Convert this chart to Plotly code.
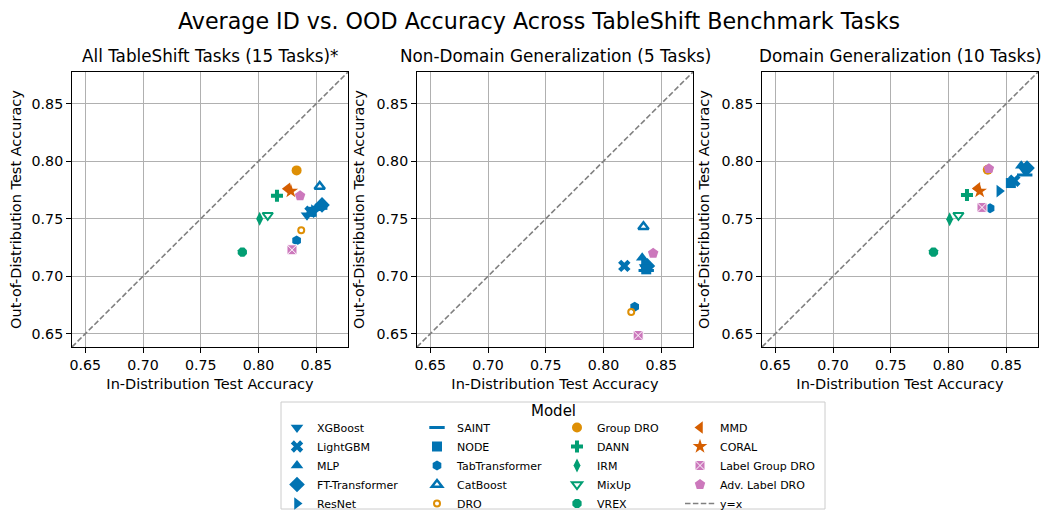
import plotly.graph_objects as go

# ---------------- data ----------------
models = ["XGBoost", "LightGBM", "MLP", "FT-Transformer", "ResNet",
          "SAINT", "NODE", "TabTransformer", "CatBoost", "DRO",
          "Group DRO", "DANN", "IRM", "MixUp", "VREX",
          "MMD", "CORAL", "Label Group DRO", "Adv. Label DRO"]

# All TableShift tasks (15 tasks)
id_all = [0.842, 0.845, 0.850, 0.855, 0.848, 0.853, 0.846, 0.833, 0.853, 0.837,
          0.833, 0.816, 0.801, 0.808, 0.786, 0.825, 0.828, 0.829, 0.836]
ood_all = [0.753, 0.756, 0.759, 0.762, 0.757, 0.759, 0.756, 0.731, 0.778, 0.740,
           0.792, 0.770, 0.750, 0.753, 0.721, 0.776, 0.774, 0.723, 0.770]

# Non-domain generalization (5 tasks)
id_ndg = [0.836, 0.818, 0.8335, 0.838, 0.835, 0.837, 0.837, 0.827, 0.8346, 0.824,
          None, None, None, None, None, None, None, 0.830, 0.843]
ood_ndg = [0.708, 0.709, 0.716, 0.709, 0.711, 0.705, 0.706, 0.6735, 0.743, 0.669,
           None, None, None, None, None, None, None, 0.6485, 0.720]

# Domain generalization (10 tasks)
id_dg = [0.866, 0.857, 0.863, 0.868, 0.844, 0.866, 0.854, 0.836, None, None,
         0.834, 0.816, 0.801, 0.8086, 0.787, 0.825, 0.827, 0.829, 0.835]
ood_dg = [0.792, 0.783, 0.796, 0.794, 0.774, 0.788, 0.781, 0.759, None, None,
          0.7925, 0.7705, 0.7496, 0.753, 0.721, 0.7763, 0.774, 0.7598, 0.7935]

panel_titles = ["All TableShift Tasks (15 Tasks)*",
                "Non-Domain Generalization (5 Tasks)",
                "Domain Generalization (10 Tasks)"]
tick_vals = [0.65, 0.70, 0.75, 0.80, 0.85]
tick_text = ["0.65", "0.70", "0.75", "0.80", "0.85"]
axis_range = [0.6385, 0.8775]

# ---------------- styles ----------------
BLUE, ORANGE, GREEN, VERM, PINK = "#0173B2", "#DE8F05", "#029E73", "#D55E00", "#CC78BC"
styles = {
    "XGBoost": dict(symbol="triangle-down", color=BLUE, size=11),
    "LightGBM": dict(symbol="x", color=BLUE, size=11),
    "MLP": dict(symbol="triangle-up", color=BLUE, size=11),
    "FT-Transformer": dict(symbol="diamond", color=BLUE, size=12),
    "ResNet": dict(symbol="triangle-right", color=BLUE, size=11),
    "SAINT": dict(symbol="line-ew", color=BLUE, size=11, line=dict(width=3, color=BLUE)),
    "NODE": dict(symbol="square", color=BLUE, size=10),
    "TabTransformer": dict(symbol="hexagon", color=BLUE, size=10),
    "CatBoost": dict(symbol="triangle-up-open", color=BLUE, size=9, line=dict(width=2.5, color=BLUE)),
    "DRO": dict(symbol="circle-open", color=ORANGE, size=6, line=dict(width=2, color=ORANGE)),
    "Group DRO": dict(symbol="circle", color=ORANGE, size=10),
    "DANN": dict(symbol="cross", color=GREEN, size=10),
    "IRM": dict(symbol="diamond-tall", color=GREEN, size=10),
    "MixUp": dict(symbol="triangle-down-open", color=GREEN, size=9, line=dict(width=2, color=GREEN)),
    "VREX": dict(symbol="octagon", color=GREEN, size=10),
    "MMD": dict(symbol="triangle-left", color=VERM, size=11),
    "CORAL": dict(symbol="star", color=VERM, size=11),
    "Label Group DRO": dict(symbol="square-x", color=PINK, size=10, line=dict(width=1, color="white")),
    "Adv. Label DRO": dict(symbol="pentagon", color=PINK, size=11),
}

# page offset of the figure (body margin) and canvas geometry
OFF = 8
W, H = 1049, 540          # canvas taller than the visible window so legends never push margins
ML, MT = 64, 64
PW, PH = 966, 275
MR = W - ML - PW
MB = H - MT - PH


def px_x(p):
    """reference page x pixel -> paper x"""
    return (p - OFF - ML) / PW


def px_y(p):
    """reference page y pixel -> paper y"""
    return (MT + PH - (p - OFF)) / PH


fig = go.Figure()
panels = [(id_all, ood_all), (id_ndg, ood_ndg), (id_dg, ood_dg)]
legend_names = ["legend", "legend2", "legend3", "legend4"]

for pi, (xs, ys) in enumerate(panels):
    ax = "" if pi == 0 else str(pi + 1)
    fig.add_trace(go.Scatter(
        x=axis_range, y=axis_range, mode="lines", name="y=x",
        line=dict(color="#808080", width=1.6, dash="5.5px,2.4px"),
        xaxis="x" + ax, yaxis="y" + ax, showlegend=(pi == 0),
        legend="legend4", legendgroup="y=x", legendrank=1000, hoverinfo="skip"))
    for mi, m in enumerate(models):
        if xs[mi] is None:
            continue
        st = styles[m]
        marker = dict(symbol=st["symbol"], color=st["color"], size=st["size"])
        marker["line"] = st.get("line", dict(width=0))
        fig.add_trace(go.Scatter(
            x=[xs[mi]], y=[ys[mi]], mode="markers", name=m, marker=marker,
            xaxis="x" + ax, yaxis="y" + ax, showlegend=(pi == 0),
            legend=legend_names[min(mi // 5, 3)], legendgroup=m, legendrank=mi))

FONT = "DejaVu Sans"
axis_common = dict(
    range=axis_range, tickvals=tick_vals, ticktext=tick_text,
    showline=True, mirror=True, linecolor="black", linewidth=1,
    ticks="outside", ticklen=5, tickwidth=1, tickcolor="black",
    showgrid=True, gridcolor="#b0b0b0", gridwidth=0.8, zeroline=False,
    tickfont=dict(family=FONT, size=14.2, color="black"), automargin=False,
)

# panel left/right edges in reference page pixels
panel_px = [(72, 348), (417, 693), (762, 1038)]
layout = dict(
    width=W, height=H, margin=dict(l=ML, r=MR, t=MT, b=MB),
    plot_bgcolor="white", paper_bgcolor="white",
    font=dict(family=FONT, color="black"),
    title=dict(text="Average ID vs. OOD Accuracy Across TableShift Benchmark Tasks",
               x=(539 - OFF) / W, xanchor="center", y=1 - (21 - OFF) / H, yanchor="middle",
               yref="container", pad=dict(t=0, b=0),
               font=dict(family=FONT, size=22.2, color="black")),
)
annotations = []
for pi in range(3):
    ax = "" if pi == 0 else str(pi + 1)
    p0, p1 = panel_px[pi]
    layout["xaxis" + ax] = dict(axis_common, domain=[max(0, px_x(p0)), min(1, px_x(p1))],
                                anchor="y" + ax,
                                title=dict(text="In-Distribution Test Accuracy", standoff=6,
                                           font=dict(family=FONT, size=14.5)))
    layout["yaxis" + ax] = dict(axis_common, domain=[0, 1], anchor="x" + ax,
                                title=dict(text="Out-of-Distribution Test Accuracy", standoff=8,
                                           font=dict(family=FONT, size=14.5)))
    annotations.append(dict(text=panel_titles[pi], x=(px_x(p0) + px_x(p1)) / 2, y=1,
                            xref="paper", yref="paper", xanchor="center", yanchor="bottom",
                            yshift=4, showarrow=False,
                            font=dict(family=FONT, size=16.8, color="black")))

annotations.append(dict(text="Model", x=px_x(553), y=px_y(411), xref="paper", yref="paper",
                        xanchor="center", yanchor="middle", showarrow=False,
                        font=dict(family=FONT, size=15, color="black")))
layout["annotations"] = annotations
layout["shapes"] = [dict(type="rect", xref="paper", yref="paper",
                         x0=px_x(281), x1=px_x(825), y0=px_y(402), y1=px_y(509),
                         line=dict(color="#cccccc", width=1), fillcolor="rgba(0,0,0,0)")]

# legend column left edges (reference page px), marker sits ~21px to the right
col_left = [277, 417, 557, 680]
for li, ln in enumerate(legend_names):
    layout[ln] = dict(x=px_x(col_left[li]), xanchor="left", y=px_y(413), yanchor="top",
                      orientation="v", bgcolor="rgba(0,0,0,0)", borderwidth=0,
                      font=dict(family=FONT, size=11, color="black"),
                      traceorder="normal", itemclick=False, itemdoubleclick=False)

fig.update_layout(**layout)
fig.write_html("out.html")
